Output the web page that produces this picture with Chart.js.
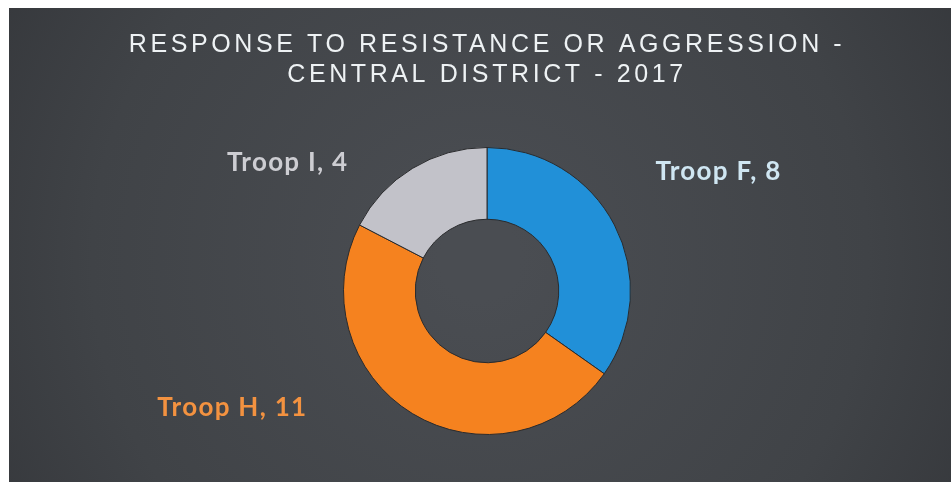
<!DOCTYPE html>
<html>
<head>
<meta charset="utf-8">
<script src="https://cdn.jsdelivr.net/npm/chart.js@4.4.1/dist/chart.umd.min.js"></script>
<style>
  html, body { margin: 0; padding: 0; background: #fff; }
  #wrap { width: 951px; height: 482px; position: relative; }
</style>
</head>
<body>
<div id="wrap"><canvas id="chart"></canvas></div>
<script>
const categories = ['Troop F', 'Troop H', 'Troop I'];
const counts = [8, 11, 4];
const titleLines = ['RESPONSE TO RESISTANCE OR AGGRESSION -', 'CENTRAL DISTRICT - 2017'];

const sliceColors = ['#2190d8', '#f5821f', '#c2c2c9'];
const labelColors = ['#cfe6f2', '#f39240', '#cdcdd2'];
// label nudges from the outer edge of each slice (px), and side to align to
const labelOffsets = [[41, -53], [-105, -6], [-64, -6]];
const labelAlign = ['left', 'right', 'right'];

const backdrop = {
  id: 'backdrop',
  beforeDraw(chart) {
    const c = chart.ctx;
    const w = chart.width, h = chart.height;
    c.save();
    c.fillStyle = '#ffffff';
    c.fillRect(0, 0, w, h);
    const g = c.createRadialGradient(480, 260, 40, 480, 260, 620);
    g.addColorStop(0, '#4a4d52');
    g.addColorStop(0.6, '#404347');
    g.addColorStop(1, '#323438');
    c.fillStyle = g;
    c.fillRect(9, 8, w - 9, h - 8);
    c.restore();
    // spaced-out capitals for the title
    c.letterSpacing = '3.6px';
  },
  beforeDatasetsDraw(chart) {
    chart.ctx.letterSpacing = '0px';
  }
};

const sliceLabels = {
  id: 'sliceLabels',
  afterDatasetsDraw(chart) {
    const c = chart.ctx;
    const meta = chart.getDatasetMeta(0);
    c.save();
    c.font = 'bold 26px Lato, "Open Sans", sans-serif';
    c.letterSpacing = '1.3px';
    c.textBaseline = 'middle';
    meta.data.forEach((arc, i) => {
      const p = arc.getProps(['x', 'y', 'startAngle', 'endAngle', 'outerRadius'], true);
      const mid = (p.startAngle + p.endAngle) / 2;
      const ax = p.x + Math.cos(mid) * p.outerRadius + labelOffsets[i][0];
      const ay = p.y + Math.sin(mid) * p.outerRadius + labelOffsets[i][1];
      c.textAlign = labelAlign[i];
      c.fillStyle = labelColors[i];
      c.fillText(categories[i] + ', ' + counts[i], ax, ay);
    });
    c.restore();
  }
};

new Chart(document.getElementById('chart'), {
  type: 'doughnut',
  data: {
    labels: categories,
    datasets: [{
      data: counts,
      backgroundColor: sliceColors,
      borderColor: '#2a2b2d',
      borderWidth: 1,
      hoverOffset: 0
    }]
  },
  options: {
    responsive: true,
    maintainAspectRatio: false,
    animation: false,
    cutout: '50%',
    layout: { padding: { left: 23, right: 0, top: 0, bottom: 47 } },
    plugins: {
      legend: { display: false },
      tooltip: { enabled: false },
      title: {
        display: true,
        text: titleLines,
        color: '#eef2f4',
        font: { family: '"Liberation Sans", Arial, sans-serif', size: 25, weight: 'normal', lineHeight: 1.2 },
        padding: { top: 30, bottom: 57 }
      }
    }
  },
  plugins: [backdrop, sliceLabels]
});
</script>
</body>
</html>
